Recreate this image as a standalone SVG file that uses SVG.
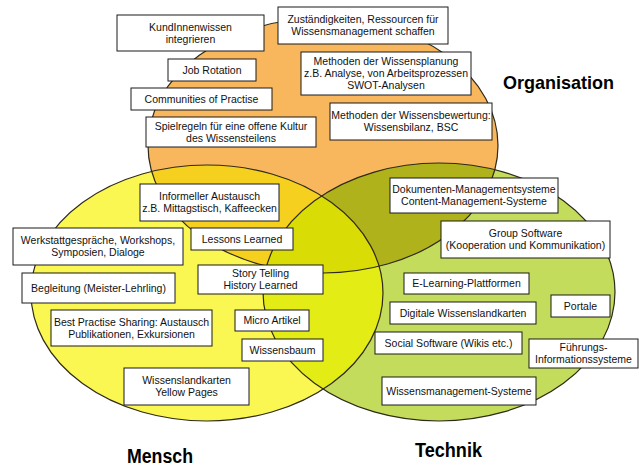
<svg xmlns="http://www.w3.org/2000/svg" width="639" height="468" viewBox="0 0 639 468">
<style>
  .box rect { fill: #ffffff; stroke: #1a1a1a; stroke-width: 1; }
  .box text { font-family: "Liberation Sans", Arial, sans-serif; font-size: 10.5px; fill: #111111; text-anchor: middle; }
  .title { font-family: "Liberation Sans", Arial, sans-serif; font-weight: bold; fill: #000000; }
  .outline { fill: none; stroke: #2e2a1a; stroke-width: 1.2; }
</style>
<defs>
  <ellipse id="eO" cx="323" cy="145.5" rx="175" ry="127.5"/>
  <ellipse id="eY" cx="207" cy="293" rx="176" ry="128"/>
  <ellipse id="eG" cx="439" cy="292" rx="176" ry="129"/>
  <clipPath id="cO"><use href="#eO"/></clipPath>
  <clipPath id="cY"><use href="#eY"/></clipPath>
  <clipPath id="cG"><use href="#eG"/></clipPath>
</defs>
<rect x="0" y="0" width="639" height="468" fill="#ffffff"/>
<g id="venn">
  <use href="#eO" fill="#F8B65D"/>
  <use href="#eY" fill="#FBF752"/>
  <use href="#eG" fill="#C3DC5C"/>
  <use href="#eY" fill="#F6D01E" clip-path="url(#cO)"/>
  <use href="#eG" fill="#AFB21A" clip-path="url(#cO)"/>
  <use href="#eG" fill="#E3EC14" clip-path="url(#cY)"/>
  <g clip-path="url(#cO)"><use href="#eG" fill="#DADC06" clip-path="url(#cY)"/></g>
  <use href="#eO" class="outline"/>
  <use href="#eY" class="outline"/>
  <use href="#eG" class="outline"/>
</g>
<g id="kundinnenwissen" class="box"><rect x="117" y="15" width="147" height="36"/><text x="190.5" y="30.5">KundInnenwissen</text><text x="190.5" y="42.9">integrieren</text></g>
<g id="zustaendigkeiten" class="box"><rect x="278" y="7" width="170" height="37"/><text x="363" y="23">Zuständigkeiten, Ressourcen für</text><text x="363" y="35.4">Wissensmanagement schaffen</text></g>
<g id="job-rotation" class="box"><rect x="168" y="59" width="88" height="22"/><text x="212" y="73.7">Job Rotation</text></g>
<g id="communities" class="box"><rect x="131" y="88" width="141" height="22"/><text x="201.5" y="102.7">Communities of Practise</text></g>
<g id="spielregeln" class="box"><rect x="146" y="117" width="170" height="30"/><text x="231" y="129.5">Spielregeln für eine offene Kultur</text><text x="231" y="141.9">des Wissensteilens</text></g>
<g id="wissensplanung" class="box"><rect x="301" y="52" width="170" height="43"/><text x="386" y="65">Methoden der Wissensplanung</text><text x="386" y="77.2">z.B. Analyse, von Arbeitsprozessen</text><text x="386" y="89.4">SWOT-Analysen</text></g>
<g id="wissensbewertung" class="box"><rect x="330" y="103" width="162" height="37"/><text x="411" y="119">Methoden der Wissensbewertung:</text><text x="411" y="131.4">Wissensbilanz, BSC</text></g>
<g id="informeller-austausch" class="box"><rect x="140" y="184" width="139" height="37"/><text x="209.5" y="200">Informeller Austausch</text><text x="209.5" y="212.4">z.B. Mittagstisch, Kaffeecken</text></g>
<g id="werkstattgespraeche" class="box"><rect x="13" y="228" width="170" height="37"/><text x="98" y="244">Werkstattgespräche, Workshops,</text><text x="98" y="256.4">Symposien, Dialoge</text></g>
<g id="lessons-learned" class="box"><rect x="191" y="228" width="102" height="22"/><text x="242" y="242.7">Lessons Learned</text></g>
<g id="begleitung" class="box"><rect x="22" y="273" width="153" height="30"/><text x="98.5" y="291.7">Begleitung (Meister-Lehrling)</text></g>
<g id="story-telling" class="box"><rect x="198" y="265" width="125" height="29"/><text x="260.5" y="277">Story Telling</text><text x="260.5" y="289.4">History Learned</text></g>
<g id="best-practise" class="box"><rect x="51" y="310" width="161" height="36"/><text x="131.5" y="325.5">Best Practise Sharing: Austausch</text><text x="131.5" y="337.9">Publikationen, Exkursionen</text></g>
<g id="micro-artikel" class="box"><rect x="235" y="310" width="74" height="21"/><text x="272" y="324.2">Micro Artikel</text></g>
<g id="wissensbaum" class="box"><rect x="242" y="339" width="81" height="22"/><text x="282.5" y="353.7">Wissensbaum</text></g>
<g id="yellow-pages" class="box"><rect x="124" y="368" width="125" height="37"/><text x="186.5" y="384">Wissenslandkarten</text><text x="186.5" y="396.4">Yellow Pages</text></g>
<g id="dms" class="box"><rect x="390" y="178" width="168" height="35"/><text x="474" y="193">Dokumenten-Managementsysteme</text><text x="474" y="205.4">Content-Management-Systeme</text></g>
<g id="group-software" class="box"><rect x="441" y="221" width="169" height="37"/><text x="525.5" y="237">Group Software</text><text x="525.5" y="249.4">(Kooperation und Kommunikation)</text></g>
<g id="e-learning" class="box"><rect x="404" y="273" width="125" height="21"/><text x="466.5" y="287.2">E-Learning-Plattformen</text></g>
<g id="portale" class="box"><rect x="551" y="295" width="59" height="22"/><text x="580.5" y="309.7">Portale</text></g>
<g id="digitale-wissenslandkarten" class="box"><rect x="390" y="302" width="146" height="22"/><text x="463" y="316.7">Digitale Wissenslandkarten</text></g>
<g id="social-software" class="box"><rect x="375" y="332" width="147" height="22"/><text x="448.5" y="346.7">Social Software (Wikis etc.)</text></g>
<g id="fuehrungs-informationssysteme" class="box"><rect x="529" y="339" width="109" height="29"/><text x="583.5" y="351">Führungs-</text><text x="583.5" y="363.4">Informationssysteme</text></g>
<g id="wm-systeme" class="box"><rect x="382" y="377" width="154" height="28"/><text x="459" y="394.7">Wissensmanagement-Systeme</text></g>
<g id="labels">
  <text class="title" x="503" y="89" font-size="19" textLength="111" lengthAdjust="spacingAndGlyphs">Organisation</text>
  <text class="title" x="127" y="463" font-size="20" textLength="66" lengthAdjust="spacingAndGlyphs">Mensch</text>
  <text class="title" x="415" y="457" font-size="20" textLength="67" lengthAdjust="spacingAndGlyphs">Technik</text>
</g>
</svg>
